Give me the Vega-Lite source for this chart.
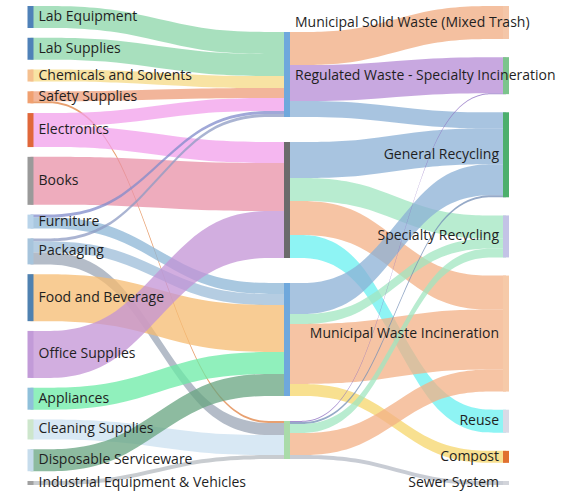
{
  "$schema": "https://vega.github.io/schema/vega-lite/v6.json",
  "width": 562,
  "height": 492,
  "autosize": {"type": "none"},
  "padding": 0,
  "background": "white",
  "view": {"stroke": null},
  "config": {"font": "Open Sans"},
  "datasets": {
    "links": [
      {"source": "Lab Equipment", "target": "Stream A", "value": 22},
      {"source": "Lab Supplies", "target": "Stream A", "value": 22},
      {"source": "Chemicals and Solvents", "target": "Stream A", "value": 12},
      {"source": "Safety Supplies", "target": "Stream A", "value": 10},
      {"source": "Safety Supplies", "target": "Stream D", "value": 2},
      {"source": "Electronics", "target": "Stream A", "value": 13},
      {"source": "Electronics", "target": "Stream B", "value": 21},
      {"source": "Books", "target": "Stream B", "value": 48},
      {"source": "Furniture", "target": "Stream A", "value": 3},
      {"source": "Furniture", "target": "Stream C", "value": 11},
      {"source": "Packaging", "target": "Stream A", "value": 3},
      {"source": "Packaging", "target": "Stream C", "value": 11},
      {"source": "Packaging", "target": "Stream D", "value": 12},
      {"source": "Food and Beverage", "target": "Stream C", "value": 47},
      {"source": "Office Supplies", "target": "Stream B", "value": 47},
      {"source": "Appliances", "target": "Stream C", "value": 22},
      {"source": "Cleaning Supplies", "target": "Stream D", "value": 20},
      {"source": "Disposable Serviceware", "target": "Stream C", "value": 22},
      {"source": "Industrial Equipment & Vehicles", "target": "Stream D", "value": 4},
      {"source": "Stream A", "target": "Municipal Solid Waste (Mixed Trash)", "value": 33},
      {"source": "Stream A", "target": "Regulated Waste - Specialty Incineration", "value": 36},
      {"source": "Stream A", "target": "General Recycling", "value": 16},
      {"source": "Stream B", "target": "General Recycling", "value": 36},
      {"source": "Stream B", "target": "Specialty Recycling", "value": 23},
      {"source": "Stream B", "target": "Municipal Waste Incineration", "value": 34},
      {"source": "Stream B", "target": "Reuse", "value": 23},
      {"source": "Stream C", "target": "General Recycling", "value": 31},
      {"source": "Stream C", "target": "Specialty Recycling", "value": 10},
      {"source": "Stream C", "target": "Municipal Waste Incineration", "value": 60},
      {"source": "Stream C", "target": "Compost", "value": 12},
      {"source": "Stream D", "target": "Regulated Waste - Specialty Incineration", "value": 1},
      {"source": "Stream D", "target": "General Recycling", "value": 2},
      {"source": "Stream D", "target": "Specialty Recycling", "value": 9},
      {"source": "Stream D", "target": "Municipal Waste Incineration", "value": 22},
      {"source": "Stream D", "target": "Sewer System", "value": 4}
    ],
    "nodes": [
      {"node": "Lab Equipment", "col": 0, "rank": 0},
      {"node": "Lab Supplies", "col": 0, "rank": 1},
      {"node": "Chemicals and Solvents", "col": 0, "rank": 2},
      {"node": "Safety Supplies", "col": 0, "rank": 3},
      {"node": "Electronics", "col": 0, "rank": 4},
      {"node": "Books", "col": 0, "rank": 5},
      {"node": "Furniture", "col": 0, "rank": 6},
      {"node": "Packaging", "col": 0, "rank": 7},
      {"node": "Food and Beverage", "col": 0, "rank": 8},
      {"node": "Office Supplies", "col": 0, "rank": 9},
      {"node": "Appliances", "col": 0, "rank": 10},
      {"node": "Cleaning Supplies", "col": 0, "rank": 11},
      {"node": "Disposable Serviceware", "col": 0, "rank": 12},
      {"node": "Industrial Equipment & Vehicles", "col": 0, "rank": 13},
      {"node": "Stream A", "col": 1, "rank": 0},
      {"node": "Stream B", "col": 1, "rank": 1},
      {"node": "Stream C", "col": 1, "rank": 2},
      {"node": "Stream D", "col": 1, "rank": 3},
      {"node": "Municipal Solid Waste (Mixed Trash)", "col": 2, "rank": 0},
      {"node": "Regulated Waste - Specialty Incineration", "col": 2, "rank": 1},
      {"node": "General Recycling", "col": 2, "rank": 2},
      {"node": "Specialty Recycling", "col": 2, "rank": 3},
      {"node": "Municipal Waste Incineration", "col": 2, "rank": 4},
      {"node": "Reuse", "col": 2, "rank": 5},
      {"node": "Compost", "col": 2, "rank": 6},
      {"node": "Sewer System", "col": 2, "rank": 7}
    ]
  },
  "data": {"name": "links"},
  "transform": [
    {"lookup": "source", "from": {"data": {"name": "nodes"}, "key": "node", "fields": ["col", "rank"]}, "as": ["sc", "sr"]},
    {"lookup": "target", "from": {"data": {"name": "nodes"}, "key": "node", "fields": ["col", "rank"]}, "as": ["tc", "tr"]},
    {"window": [{"op": "sum", "field": "value", "as": "sCum"}], "sort": [{"field": "sr"}, {"field": "tr"}], "groupby": ["sc"], "frame": [null, 0]},
    {"window": [{"op": "dense_rank", "as": "sIdx"}], "sort": [{"field": "sr"}], "groupby": ["sc"]},
    {"joinaggregate": [{"op": "sum", "field": "value", "as": "sTot"}, {"op": "max", "field": "sIdx", "as": "sN"}], "groupby": ["sc"]},
    {"window": [{"op": "sum", "field": "value", "as": "tCum"}], "sort": [{"field": "tr"}, {"field": "sr"}], "groupby": ["tc"], "frame": [null, 0]},
    {"window": [{"op": "dense_rank", "as": "tIdx"}], "sort": [{"field": "tr"}], "groupby": ["tc"]},
    {"joinaggregate": [{"op": "sum", "field": "value", "as": "tTot"}, {"op": "max", "field": "tIdx", "as": "tN"}], "groupby": ["tc"]},
    {"calculate": "min((479 - datum.sTot) / max(datum.sN - 1, 1), 25)", "as": "sGap"},
    {"calculate": "(479 - datum.sTot - datum.sGap * (datum.sN - 1)) / 2", "as": "sOff"},
    {"calculate": "datum.sOff + datum.sCum + (datum.sIdx - 1) * datum.sGap", "as": "ys1"},
    {"calculate": "datum.ys1 - datum.value", "as": "ys0"},
    {"calculate": "min((479 - datum.tTot) / max(datum.tN - 1, 1), 25)", "as": "tGap"},
    {"calculate": "(479 - datum.tTot - datum.tGap * (datum.tN - 1)) / 2", "as": "tOff"},
    {"calculate": "datum.tOff + datum.tCum + (datum.tIdx - 1) * datum.tGap", "as": "yt1"},
    {"calculate": "datum.yt1 - datum.value", "as": "yt0"}
  ],
  "layer": [
    {
      "transform": [
        {"calculate": "datum.source + ' > ' + datum.target", "as": "link"},
        {"fold": ["p0", "p1", "p2", "p3"], "as": ["pt", "pv"]},
        {"calculate": "indexof(['p0','p1','p2','p3'], datum.pt) / 3", "as": "t"},
        {"calculate": "datum.sc + datum.t", "as": "px"},
        {"calculate": "datum.t < 0.5 ? datum.ys0 : datum.yt0", "as": "yA"},
        {"calculate": "datum.t < 0.5 ? datum.ys1 : datum.yt1", "as": "yB"}
      ],
      "mark": {"type": "area", "interpolate": "basis", "opacity": 0.75},
      "encoding": {
        "x": {"field": "px", "type": "quantitative", "scale": {"domain": [0, 1, 2], "range": [30.5, 287, 506], "nice": false, "zero": false}, "axis": null},
        "y": {"field": "yA", "type": "quantitative", "scale": {"domain": [-6, 486], "reverse": true, "nice": false, "zero": false}, "axis": null, "stack": null},
        "y2": {"field": "yB"},
        "color": {
          "field": "link",
          "type": "nominal",
          "legend": null,
          "scale": {
            "domain": [
              "Lab Equipment > Stream A",
              "Lab Supplies > Stream A",
              "Chemicals and Solvents > Stream A",
              "Safety Supplies > Stream A",
              "Safety Supplies > Stream D",
              "Electronics > Stream A",
              "Electronics > Stream B",
              "Books > Stream B",
              "Furniture > Stream A",
              "Furniture > Stream C",
              "Packaging > Stream A",
              "Packaging > Stream C",
              "Packaging > Stream D",
              "Food and Beverage > Stream C",
              "Office Supplies > Stream B",
              "Appliances > Stream C",
              "Cleaning Supplies > Stream D",
              "Disposable Serviceware > Stream C",
              "Industrial Equipment & Vehicles > Stream D",
              "Stream A > Municipal Solid Waste (Mixed Trash)",
              "Stream A > Regulated Waste - Specialty Incineration",
              "Stream A > General Recycling",
              "Stream B > General Recycling",
              "Stream B > Specialty Recycling",
              "Stream B > Municipal Waste Incineration",
              "Stream B > Reuse",
              "Stream C > General Recycling",
              "Stream C > Specialty Recycling",
              "Stream C > Municipal Waste Incineration",
              "Stream C > Compost",
              "Stream D > Regulated Waste - Specialty Incineration",
              "Stream D > General Recycling",
              "Stream D > Specialty Recycling",
              "Stream D > Municipal Waste Incineration",
              "Stream D > Sewer System"
            ],
            "range": [
              "#8bd6a8", "#8bd6a8", "#f6da84", "#ee9c78", "#e08040",
              "#f29feb", "#f29feb", "#e890a7", "#808bcb", "#8cb6d6",
              "#8e9bc3", "#9cbcd8", "#9ba6b6", "#f6bb70", "#c393d6",
              "#6beba6", "#cbe0f0", "#67a480", "#b6bbc0",
              "#f0ab80", "#b68bd6", "#8bb0d6", "#8bb0d6", "#a0e6c0",
              "#f3b086", "#68f0f0", "#8bb0d6", "#a0e6c0", "#f3b086",
              "#f6d66b", "#8b6bc0", "#738eb6", "#a0e6c0", "#f3b086", "#b6bbc6"
            ]
          }
        }
      }
    },
    {
      "transform": [
        {"fold": ["fs", "ft"], "as": ["side", "sv"]},
        {"calculate": "datum.side == 'fs' ? datum.source : datum.target", "as": "node"},
        {"calculate": "datum.side == 'fs' ? datum.sc : datum.tc", "as": "col"},
        {"calculate": "datum.side == 'fs' ? datum.ys0 : datum.yt0", "as": "n0"},
        {"calculate": "datum.side == 'fs' ? datum.ys1 : datum.yt1", "as": "n1"},
        {"aggregate": [{"op": "min", "field": "n0", "as": "y0"}, {"op": "max", "field": "n1", "as": "y1"}], "groupby": ["node", "col"]},
        {"calculate": "(datum.y0 + datum.y1) / 2", "as": "ym"}
      ],
      "layer": [
        {
          "mark": {"type": "rule", "strokeWidth": 6, "strokeCap": "butt"},
          "encoding": {
            "x": {"field": "col", "type": "quantitative", "scale": {"domain": [0, 1, 2], "range": [30.5, 287, 506], "nice": false, "zero": false}, "axis": null},
            "y": {"field": "y0", "type": "quantitative", "scale": {"domain": [-6, 486], "reverse": true, "nice": false, "zero": false}, "axis": null},
            "y2": {"field": "y1"},
            "color": {
              "field": "node",
              "type": "nominal",
              "legend": null,
              "scale": {
                "domain": [
                  "Lab Equipment", "Lab Supplies", "Chemicals and Solvents", "Safety Supplies", "Electronics",
                  "Books", "Furniture", "Packaging", "Food and Beverage", "Office Supplies", "Appliances",
                  "Cleaning Supplies", "Disposable Serviceware", "Industrial Equipment & Vehicles",
                  "Stream A", "Stream B", "Stream C", "Stream D",
                  "Municipal Solid Waste (Mixed Trash)", "Regulated Waste - Specialty Incineration",
                  "General Recycling", "Specialty Recycling", "Municipal Waste Incineration",
                  "Reuse", "Compost", "Sewer System"
                ],
                "range": [
                  "#4f81b8", "#4f81b8", "#f5c08f", "#f0a070", "#e0673a",
                  "#9a9a9a", "#b9d4ea", "#a6c4dc", "#4f81b0", "#c29bd8", "#8fc0da",
                  "#cde6cc", "#c6dcec", "#a0a0a0",
                  "#6fa8dc", "#6b6b6b", "#6fa8dc", "#a9dba9",
                  "#f4c6a8", "#7cc48c", "#4caf6c", "#c3c3e6", "#f6caa9",
                  "#d9dae6", "#e07030", "#d2d4da"
                ]
              }
            }
          }
        },
        {
          "transform": [{"filter": "datum.col == 0"}],
          "mark": {"type": "text", "align": "left", "baseline": "middle", "dx": 8, "fontSize": 14, "font": "Open Sans", "color": "#1f1f1f"},
          "encoding": {
            "x": {"field": "col", "type": "quantitative", "scale": {"domain": [0, 1, 2], "range": [30.5, 287, 506], "nice": false, "zero": false}, "axis": null},
            "y": {"field": "ym", "type": "quantitative", "scale": {"domain": [-6, 486], "reverse": true, "nice": false, "zero": false}, "axis": null},
            "text": {"field": "node"}
          }
        },
        {
          "transform": [{"filter": "datum.col == 2 && length(datum.node) <= 30"}],
          "mark": {"type": "text", "align": "right", "baseline": "middle", "dx": -7, "fontSize": 14, "font": "Open Sans", "color": "#1f1f1f"},
          "encoding": {
            "x": {"field": "col", "type": "quantitative", "scale": {"domain": [0, 1, 2], "range": [30.5, 287, 506], "nice": false, "zero": false}, "axis": null},
            "y": {"field": "ym", "type": "quantitative", "scale": {"domain": [-6, 486], "reverse": true, "nice": false, "zero": false}, "axis": null},
            "text": {"field": "node"}
          }
        },
        {
          "transform": [{"filter": "datum.col == 2 && length(datum.node) > 30"}, {"calculate": "datum.col - 1", "as": "lc"}],
          "mark": {"type": "text", "align": "left", "baseline": "middle", "dx": 8, "fontSize": 14, "font": "Open Sans", "color": "#1f1f1f"},
          "encoding": {
            "x": {"field": "lc", "type": "quantitative", "scale": {"domain": [0, 1, 2], "range": [30.5, 287, 506], "nice": false, "zero": false}, "axis": null},
            "y": {"field": "ym", "type": "quantitative", "scale": {"domain": [-6, 486], "reverse": true, "nice": false, "zero": false}, "axis": null},
            "text": {"field": "node"}
          }
        }
      ]
    }
  ],
  "resolve": {"scale": {"color": "independent"}}
}
